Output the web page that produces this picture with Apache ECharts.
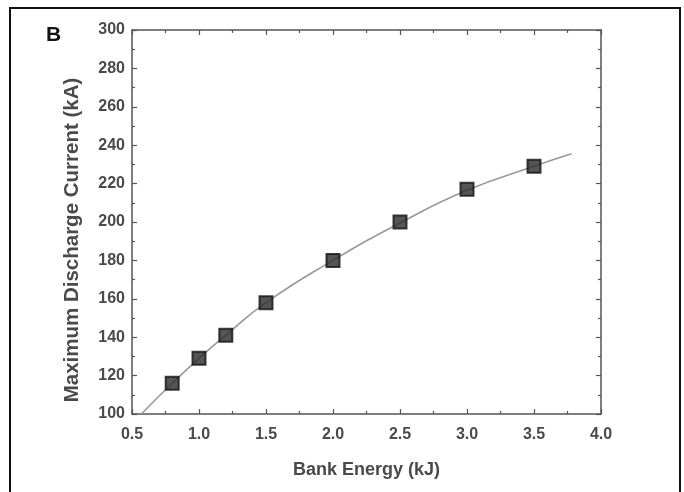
<!DOCTYPE html>
<html><head><meta charset="utf-8">
<script src="https://cdn.jsdelivr.net/npm/echarts@6/dist/echarts.min.js"></script>
<style>html,body{margin:0;padding:0;background:#fff}#c{width:684px;height:492px}</style>
</head><body><div id="c"></div>
<script>
// Measured data points
const energyKJ = [0.8, 1.0, 1.2, 1.5, 2.0, 2.5, 3.0, 3.5];
const currentKA = [116, 129, 141, 158, 180, 200, 217, 229];
// Fitted curve
const fitX = [0.57, 0.8, 1.0, 1.2, 1.5, 2.0, 2.5, 3.0, 3.5, 3.78];
const fitY = [100, 116, 129, 141, 158, 180, 199.5, 216.5, 229, 235.5];
const xTicks = ['0.5','1.0','1.5','2.0','2.5','3.0','3.5','4.0'];
const yTicks = ['100','120','140','160','180','200','220','240','260','280','300'];
const xTitle = 'Bank Energy (kJ)';
const yTitle = 'Maximum Discharge Current (kA)';

const font = '"Liberation Sans", Arial, sans-serif';
const axisCol = '#555';
const txtCol = '#4a4a4a';
const chart = echarts.init(document.getElementById('c'), null, {renderer:'canvas'});
const tickStyle = {show:true, inside:true, length:5, lineStyle:{color:axisCol, width:1.2}};
const minorStyle = {show:true, splitNumber:2, length:3, lineStyle:{color:axisCol, width:1.2}};
chart.setOption({
  backgroundColor:'#fff',
  animation:false,
  graphic:[
    {type:'rect', shape:{x:10, y:8, width:670, height:500}, style:{fill:'none', stroke:'#111', lineWidth:2}},
    {type:'text', left:46, top:25, style:{text:'B', font:'bold 21px "Liberation Sans", Arial, sans-serif', fill:'#111'}},
    {type:'text', x:72, y:240, rotation:Math.PI/2,
      style:{text:yTitle, font:'bold 20.5px "Liberation Sans", Arial, sans-serif', fill:txtCol, align:'center', verticalAlign:'middle'}}
  ],
  grid:{left:132, right:83, top:30, bottom:78},
  xAxis:[{
    type:'value', min:0.5, max:4.0, interval:0.5,
    name:xTitle, nameLocation:'middle', nameGap:47,
    nameTextStyle:{fontFamily:font, fontSize:18, fontWeight:'bold', color:txtCol},
    axisLine:{show:true, lineStyle:{color:axisCol, width:1.5}},
    axisTick:tickStyle, minorTick:minorStyle, splitLine:{show:false},
    axisLabel:{fontFamily:font, fontSize:16, fontWeight:'bold', color:txtCol, margin:13,
      formatter:(v)=>xTicks[Math.round((v-0.5)/0.5)]}
  },{
    type:'value', position:'top', min:0.5, max:4.0, interval:0.5,
    axisLine:{show:true, lineStyle:{color:axisCol, width:1.5}},
    axisTick:tickStyle, minorTick:minorStyle, splitLine:{show:false},
    axisLabel:{show:false}
  }],
  yAxis:[{
    type:'value', min:100, max:300, interval:20,
    axisLine:{show:true, lineStyle:{color:axisCol, width:1.5}},
    axisTick:tickStyle, minorTick:minorStyle, splitLine:{show:false},
    axisLabel:{fontFamily:font, fontSize:16, fontWeight:'bold', color:txtCol, margin:7,
      formatter:(v)=>yTicks[Math.round((v-100)/20)]}
  },{
    type:'value', position:'right', min:100, max:300, interval:20,
    axisLine:{show:true, lineStyle:{color:axisCol, width:1.5}},
    axisTick:tickStyle, minorTick:minorStyle, splitLine:{show:false},
    axisLabel:{show:false}
  }],
  series:[{
    type:'line', smooth:true, showSymbol:false,
    data:fitX.map((x,i)=>[x, fitY[i]]),
    lineStyle:{color:'#999', width:1.6}, z:2
  },{
    type:'scatter', symbol:'rect', symbolSize:13,
    data:energyKJ.map((x,i)=>[x, currentKA[i]]),
    itemStyle:{color:'#2a2a2a', borderColor:'#111', borderWidth:2}, z:3
  }]
});
</script></body></html>
